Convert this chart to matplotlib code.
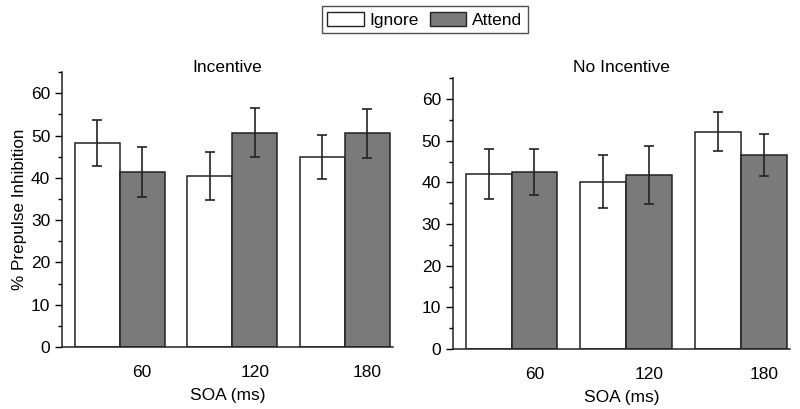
import matplotlib as mpl
mpl.use('Agg')
import matplotlib.pyplot as plt
from matplotlib.patches import Patch
from matplotlib.ticker import MultipleLocator

plt.rcParams['font.family'] = ['Liberation Sans', 'DejaVu Sans']

soa = ['60', '120', '180']
panels = ['Incentive', 'No Incentive']
ignore_mean = {'Incentive': [48.3, 40.4, 45.0], 'No Incentive': [42.0, 40.2, 52.2]}
ignore_err = {'Incentive': [5.5, 5.7, 5.2], 'No Incentive': [6.1, 6.3, 4.7]}
attend_mean = {'Incentive': [41.3, 50.7, 50.6], 'No Incentive': [42.5, 41.7, 46.5]}
attend_err = {'Incentive': [5.9, 5.8, 5.8], 'No Incentive': [5.6, 7.0, 5.0]}

fig = plt.figure(figsize=(8, 4.09), dpi=100)
boxes = [[0.0775, 0.1516, 0.4135, 0.672], [0.566, 0.1467, 0.4215, 0.662]]
title_y = [1 - 67 / 409, 1 - 68 / 409]

groups = [0, 2.5, 5]
w = 1.0
for name, box, ty in zip(panels, boxes, title_y):
    ax = fig.add_axes(box)
    xi = [g - w / 2 for g in groups]
    xa = [g + w / 2 for g in groups]
    ax.bar(xi, ignore_mean[name], w, color='white', edgecolor='#222222', linewidth=1.1,
           yerr=ignore_err[name], error_kw=dict(ecolor='#222222', elinewidth=1.2, capsize=3.5, capthick=1.2))
    ax.bar(xa, attend_mean[name], w, color='#7a7a7a', edgecolor='#222222', linewidth=1.1,
           yerr=attend_err[name], error_kw=dict(ecolor='#222222', elinewidth=1.2, capsize=3.5, capthick=1.2))
    ax.set_xlim(-1.28, 6.07)
    ax.set_ylim(0, 65)
    ax.set_xticks(xa)
    ax.set_xticklabels(soa, fontsize=12.5)
    ax.tick_params(axis='x', length=0, pad=13)
    ax.yaxis.set_major_locator(MultipleLocator(10))
    ax.yaxis.set_minor_locator(MultipleLocator(5))
    ax.tick_params(axis='y', which='major', length=5, width=1, labelsize=12.5, direction='out')
    ax.tick_params(axis='y', which='minor', length=3, width=1, direction='out')
    for s in ['top', 'right']:
        ax.spines[s].set_visible(False)
    for s in ['left', 'bottom']:
        ax.spines[s].set_linewidth(1.1)
        ax.spines[s].set_color('#222222')
    fig.text(box[0] + box[2] / 2, ty, name, ha='center', va='center', fontsize=12.5)
    ax.set_xlabel('SOA (ms)', fontsize=12.5, labelpad=6)
    if name == 'Incentive':
        ax.set_ylabel('% Prepulse Inhibition', fontsize=12.3, labelpad=3)

handles = [Patch(facecolor='white', edgecolor='#222222', label='Ignore'),
           Patch(facecolor='#7a7a7a', edgecolor='#222222', label='Attend')]
fig.legend(handles=handles, loc='center', bbox_to_anchor=(0.531, 0.952), ncol=2, fontsize=12.5,
           frameon=True, fancybox=False, edgecolor='#222222', handlelength=2.1, handleheight=0.9,
           columnspacing=0.6, handletextpad=0.35, borderpad=0.3)

fig.savefig('out.png', dpi=100)
plt.close()
